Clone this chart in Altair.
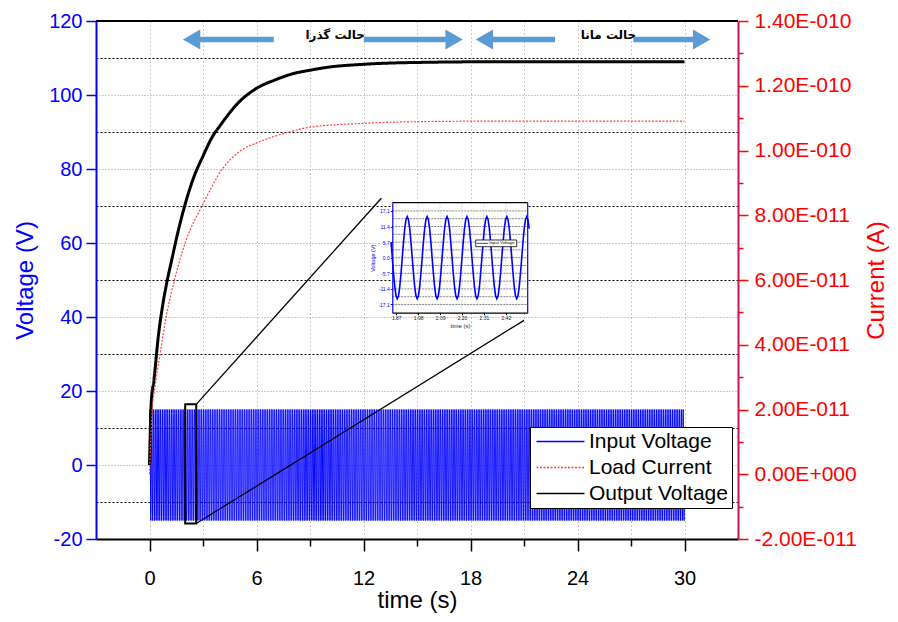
import altair as alt
import pandas as pd

# ---------------- data ----------------
# Output voltage (V), black curve
out_time = [0, 0.1, 0.25, 0.5, 0.75, 1, 1.25, 1.5, 2, 2.5, 3, 3.5, 4, 5, 6, 7, 8, 9, 10, 12, 15, 20, 25, 30]
out_volt = [0, 17, 23, 35, 43.5, 50, 55.5, 61, 70.5, 78, 83.5, 88.5, 92, 98, 101.8, 104, 105.7, 106.7, 107.5, 108.3, 108.8, 109, 109, 109]

# Load current (A), red dotted curve
cur_time = [0, 0.15, 0.28, 0.6, 0.94, 1.41, 2.06, 2.96, 4.1, 5, 6.17, 7.5, 9, 12, 15, 20, 25, 30]
cur_amp = [0, 2.0e-11, 2.58e-11, 3.74e-11, 4.87e-11, 6.02e-11, 7.24e-11, 8.3e-11, 9.44e-11, 9.95e-11,
           1.027e-10, 1.052e-10, 1.072e-10, 1.084e-10, 1.089e-10, 1.091e-10, 1.091e-10, 1.091e-10]

# Input voltage: one cycle (V), period 0.1 s, repeated over 0-30 s
input_cycle = [0.0, 5.7, 10.6, 13.9, 15.0, 13.9, 10.6, 5.7, 0.0, -5.7, -10.6, -13.9, -15.0, -13.9, -10.6, -5.7]
input_period = 0.1
input_span = [0, 30]

series_names = ["Input Voltage", "Load Current", "Output Voltage"]
series_colors = ["#0000FF", "#FF4040", "#000000"]
series_dashes = [[1, 0], [2, 1.5], [1, 0]]

x_ticks = [0, 3, 6, 9, 12, 15, 18, 21, 24, 27, 30]
volt_ticks = [-20, -10, 0, 10, 20, 30, 40, 50, 60, 70, 80, 90, 100, 110, 120]
curr_ticks_e11 = [-2, -1, 0, 1, 2, 3, 4, 5, 6, 7, 8, 9, 10, 11, 12, 13, 14]

# annotations (data units)
zoom_box_t = [2.0, 2.62]
zoom_box_v = [16.4, -15.8]
connect_t = [2.62, 2.62]
connect_v = [16.4, -15.8]
connect_t2 = [13.0, 21.0]
connect_v2 = [72.1, 39.1]
arrow_level = 115
arrow_from = [2.36, 12.02, 18.78, 27.13]
arrow_to = [6.97, 17.08, 22.74, 30.96]
arrow_head_t = [2.36, 17.08, 18.78, 30.96]
arrow_head_shape = ["triangle-left", "triangle-right", "triangle-left", "triangle-right"]
phase_labels = ["حالت گذرا", "حالت مانا"]
phase_label_t = [10.41, 25.74]
phase_label_v = 116.3

# inset
inset_t_range = [1.85, 2.53]
inset_v_range = [-20.1, 20.1]
inset_t_ticks = [1.87, 1.98, 2.09, 2.20, 2.31, 2.42]
inset_v_ticks = [-17.1, -11.4, -5.7, 0.0, 5.7, 11.4, 17.1]
inset_v_grid = [-17.1, -14.25, -11.4, -8.55, -5.7, -2.85, 0.0, 2.85, 5.7, 8.55, 11.4, 14.25, 17.1]
inset_legend_t = [2.269, 2.475]
inset_legend_v = [6.47, 4.02]
inset_legend_line_t = [2.274, 2.332]
inset_legend_line_v = 5.25
inset_legend_text_t = 2.40

# ---------------- tables ----------------
t_in, v_in = [], []
n = len(input_cycle)
n_cycles = round((input_span[1] - input_span[0]) / input_period)
for c in range(n_cycles):
    for k, v in enumerate(input_cycle):
        t_in.append(input_span[0] + c * input_period + k * input_period / n)
        v_in.append(v)
t_in.append(input_span[1])
v_in.append(input_cycle[0])

df_in = pd.DataFrame({"t": t_in, "v": v_in, "series": series_names[0]})
df_out = pd.DataFrame({"t": out_time, "v": out_volt, "series": series_names[2]})
df_cur = pd.DataFrame({"t": cur_time, "i": [a * 1e11 for a in cur_amp], "series": series_names[1]})
df_inset = df_in[(df_in.t >= inset_t_range[0] - 0.01) & (df_in.t <= inset_t_range[1] + 0.01)]

W, H = 642, 518
FONT = "Liberation Sans"
BLUE = "#0000FF"
RED = "#FF0000"
ARROW = "#5B9BD5"

x_scale = alt.Scale(domain=[-3, 33], nice=False, zero=False)
yv_scale = alt.Scale(domain=[-20, 120], nice=False, zero=False)
yc_scale = alt.Scale(domain=[-2, 14], nice=False, zero=False)

stroke_scale = alt.Scale(domain=series_names, range=series_colors)
dash_scale = alt.Scale(domain=series_names, range=series_dashes)
legend = alt.Legend(
    orient="none", legendX=434, legendY=406, title=None, direction="vertical",
    symbolType="M-1,0L5,0", symbolSize=256, symbolStrokeWidth=1.5,
    labelFont=FONT, labelFontSize=21, labelColor="black", labelOffset=34,
    fillColor="white", strokeColor="black", padding=4, rowPadding=4, cornerRadius=0,
)

x_axis = alt.Axis(
    orient="bottom", values=x_ticks, labelExpr="datum.value % 6 === 0 ? datum.label : ''",
    tickSize={"condition": {"test": "datum.value % 6 === 0", "value": 12}, "value": 7},
    tickColor="black", tickWidth=1.5, domainColor="black", domainWidth=2,
    labelFont=FONT, labelFontSize=20, labelColor="black", labelPadding=17,
    grid=True, gridColor="#b8b8b8", gridDash=[1.5, 2.5], gridWidth=1,
    title="time (s)", titleFont=FONT, titleFontSize=24, titleFontWeight="normal",
    titleColor="black", titlePadding=0,
)
yv_axis = alt.Axis(
    orient="left", values=volt_ticks,
    labelExpr="datum.value % 20 === 0 ? replace(datum.label, '\u2212', '-') : ''",
    tickSize={"condition": {"test": "datum.value % 20 === 0", "value": 10}, "value": 0},
    tickColor=BLUE, tickWidth=1.5, domainColor=BLUE, domainWidth=2,
    labelFont=FONT, labelFontSize=20, labelColor=BLUE, labelPadding=4,
    grid=True,
    gridColor={"condition": {"test": "datum.value % 20 === 0", "value": "#9a9a9a"}, "value": "#000000"},
    gridDash={"condition": {"test": "datum.value % 20 === 0", "value": [1, 2]}, "value": [2, 2]},
    gridWidth=1,
    title="Voltage (V)", titleFont=FONT, titleFontSize=24, titleFontWeight="normal",
    titleColor=BLUE, titlePadding=11,
)
label_e = ("datum.value % 2 !== 0 ? '' : (datum.value === 0 ? '0.00E+000' : "
           "((datum.value < 0 ? '-' : '') + (abs(datum.value) >= 10 ? format(abs(datum.value) / 10, '.2f') + 'E-010' : "
           "format(abs(datum.value), '.2f') + 'E-011')))")
yc_axis = alt.Axis(
    orient="right", values=curr_ticks_e11, labelExpr=label_e,
    tickSize={"condition": {"test": "datum.value % 2 === 0", "value": 10}, "value": 5},
    tickColor=RED, tickWidth=1.5, domainColor="#CC1155", domainWidth=2,
    labelFont=FONT, labelFontSize=21, labelColor=RED, labelPadding=6,
    grid=False,
    title="Current (A)", titleFont=FONT, titleFontSize=24, titleFontWeight="normal",
    titleColor=RED, titleAngle=270, titleBaseline="top", titlePadding=8,
)

# ---- main series ----
inp = alt.Chart(df_in).mark_line(strokeWidth=1).encode(
    x=alt.X("t:Q", scale=x_scale, axis=x_axis),
    y=alt.Y("v:Q", scale=yv_scale, axis=yv_axis),
    stroke=alt.Stroke("series:N", scale=stroke_scale, legend=legend),
    strokeDash=alt.StrokeDash("series:N", scale=dash_scale, legend=legend),
)
outp = alt.Chart(df_out).mark_line(strokeWidth=3, interpolate="monotone").encode(
    x=alt.X("t:Q", scale=x_scale, axis=None),
    y=alt.Y("v:Q", scale=yv_scale, axis=None),
    stroke=alt.Stroke("series:N", scale=stroke_scale, legend=legend),
    strokeDash=alt.StrokeDash("series:N", scale=dash_scale, legend=legend),
)
cur = alt.Chart(df_cur).mark_line(strokeWidth=1.2, interpolate="monotone").encode(
    x=alt.X("t:Q", scale=x_scale, axis=None),
    y=alt.Y("i:Q", scale=yc_scale, axis=yc_axis),
    stroke=alt.Stroke("series:N", scale=stroke_scale, legend=legend),
    strokeDash=alt.StrokeDash("series:N", scale=dash_scale, legend=legend),
)

# ---- annotations on the voltage scales ----
def xs(field):
    return alt.X(field, type="quantitative", scale=x_scale, axis=None)

def yv(field):
    return alt.Y(field, type="quantitative", scale=yv_scale, axis=None)

box = alt.Chart(pd.DataFrame({"t0": [zoom_box_t[0]], "t1": [zoom_box_t[1]],
                              "v0": [zoom_box_v[0]], "v1": [zoom_box_v[1]]})).mark_rect(
    fill="transparent", stroke="black", strokeWidth=2).encode(
    x=xs("t0"), x2="t1", y=yv("v0"), y2="v1")
conn = alt.Chart(pd.DataFrame({"t0": connect_t, "v0": connect_v, "t1": connect_t2, "v1": connect_v2})).mark_rule(
    color="black", strokeWidth=1.3).encode(x=xs("t0"), x2="t1", y=yv("v0"), y2="v1")
frame_top = alt.Chart(pd.DataFrame({"t0": [x_scale.domain[0]], "t1": [x_scale.domain[1]], "v": [yv_scale.domain[1]]})).mark_rule(
    color="black", strokeWidth=2).encode(x=xs("t0"), x2="t1", y=yv("v"))
shafts = alt.Chart(pd.DataFrame({"t0": arrow_from, "t1": arrow_to, "v": arrow_level})).mark_rule(
    color=ARROW, strokeWidth=5.5, strokeCap="butt").encode(x=xs("t0"), x2="t1", y=yv("v"))
heads = alt.Chart(pd.DataFrame({"t": arrow_head_t, "v": arrow_level, "shape": arrow_head_shape})).mark_point(
    filled=True, color=ARROW, opacity=1, size=400).encode(
    x=xs("t"), y=yv("v"),
    shape=alt.Shape("shape:N", scale=None, legend=None))
phase_txt = alt.Chart(pd.DataFrame({"t": phase_label_t, "v": phase_label_v, "label": phase_labels})).mark_text(
    font="DejaVu Sans", fontWeight="bold", fontSize=12, color="black").encode(
    x=xs("t"), y=yv("v"), text="label:N")

# ---- inset ----
ix = alt.Scale(domain=inset_t_range, range=[296.3, 431.7], nice=False, zero=False)
iy = alt.Scale(domain=inset_v_range, range=[291.7, 181.7], nice=False, zero=False)

def ixs(field):
    return alt.X(field, type="quantitative", scale=ix, axis=None)

def iys(field):
    return alt.Y(field, type="quantitative", scale=iy, axis=None)

in_bg = alt.Chart(pd.DataFrame({"t0": [inset_t_range[0]], "t1": [inset_t_range[1]],
                                "v0": [inset_v_range[0]], "v1": [inset_v_range[1]]})).mark_rect(
    fill="white").encode(x=ixs("t0"), x2="t1", y=iys("v0"), y2="v1")
in_vgrid = alt.Chart(pd.DataFrame({"t": inset_t_ticks, "v0": inset_v_range[0], "v1": inset_v_range[1]})).mark_rule(
    color="#c8c8c8", strokeWidth=0.7, strokeDash=[1.5, 1.5]).encode(x=ixs("t"), y=iys("v0"), y2="v1")
in_hgrid = alt.Chart(pd.DataFrame({"v": inset_v_grid, "t0": inset_t_range[0], "t1": inset_t_range[1]})).mark_rule(
    color="#666666", strokeWidth=0.8, strokeDash=[2, 1]).encode(x=ixs("t0"), x2="t1", y=iys("v"))
in_line = alt.Chart(df_inset).mark_line(color=BLUE, strokeWidth=1.6, clip=True).encode(
    x=alt.X("t:Q", scale=ix, axis=alt.Axis(
        orient="bottom", offset=-(H - 291.7), values=inset_t_ticks, format=".2f", zindex=1,
        labelFont=FONT, labelFontSize=5, labelColor="#222222", labelPadding=1,
        tickSize=2, tickColor="black", domainColor="black", domainWidth=1.2, grid=False,
        title="time (s)", titleFont=FONT, titleFontSize=6, titleFontWeight="normal",
        titleColor="#222222", titlePadding=2)),
    y=alt.Y("v:Q", scale=iy, axis=alt.Axis(
        orient="left", offset=-296.3, values=inset_v_ticks, format=".1f", zindex=1,
        labelExpr="replace(datum.label, '\u2212', '-')",
        labelFont=FONT, labelFontSize=5, labelColor=BLUE, labelPadding=1,
        tickSize=2, tickColor=BLUE, domainColor=BLUE, domainWidth=1.2, grid=False,
        title="Voltage (V)", titleFont=FONT, titleFontSize=5.5, titleFontWeight="normal",
        titleColor=BLUE, titlePadding=2)),
)
in_top = alt.Chart(pd.DataFrame({"t0": [inset_t_range[0]], "t1": [inset_t_range[1]], "v": [inset_v_range[1]]})).mark_rule(
    color="black", strokeWidth=1.2).encode(x=ixs("t0"), x2="t1", y=iys("v"))
in_right = alt.Chart(pd.DataFrame({"t": [inset_t_range[1]], "v0": [inset_v_range[0]], "v1": [inset_v_range[1]]})).mark_rule(
    color=BLUE, strokeWidth=1.2).encode(x=ixs("t"), y=iys("v0"), y2="v1")
in_leg_box = alt.Chart(pd.DataFrame({"t0": [inset_legend_t[0]], "t1": [inset_legend_t[1]],
                                     "v0": [inset_legend_v[0]], "v1": [inset_legend_v[1]]})).mark_rect(
    fill="white", stroke="black", strokeWidth=0.8).encode(x=ixs("t0"), x2="t1", y=iys("v0"), y2="v1")
in_leg_line = alt.Chart(pd.DataFrame({"t0": [inset_legend_line_t[0]], "t1": [inset_legend_line_t[1]],
                                      "v": [inset_legend_line_v]})).mark_rule(
    color=BLUE, strokeWidth=0.8).encode(x=ixs("t0"), x2="t1", y=iys("v"))
in_leg_text = alt.Chart(pd.DataFrame({"t": [inset_legend_text_t], "v": [inset_legend_line_v], "label": ["Input Voltage"]})).mark_text(
    font=FONT, fontSize=4.3, color="black").encode(x=ixs("t"), y=iys("v"), text="label:N")

chart = alt.layer(
    inp, outp, cur,
    box, conn, frame_top, shafts, heads, phase_txt,
    in_bg, in_vgrid, in_hgrid, in_line, in_top, in_right, in_leg_box, in_leg_line, in_leg_text,
).resolve_scale(
    x="independent", y="independent"
).properties(
    width=W, height=H,
    autosize=alt.AutoSizeParams(type="none"),
    padding={"left": 88, "top": 13, "right": 152, "bottom": 75},
).configure_view(strokeWidth=0)

chart.save("out.html", embed_options={"renderer": "svg", "actions": False})
